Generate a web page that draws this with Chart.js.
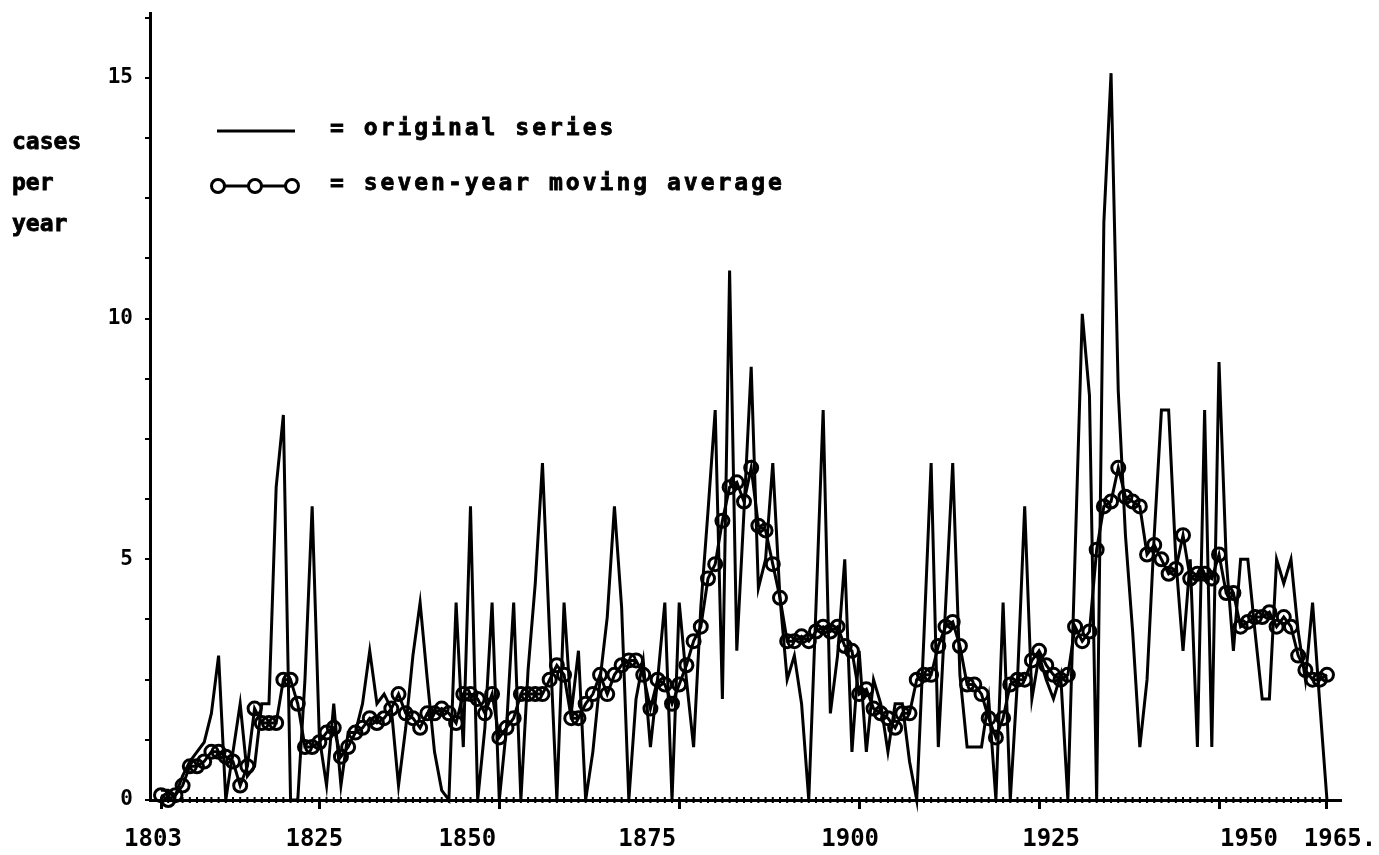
<!DOCTYPE html>
<html>
<head>
<meta charset="utf-8">
<title>cases per year</title>
<script src="https://cdn.jsdelivr.net/npm/chart.js@4.4.1/dist/chart.umd.min.js"></script>
<style>
  html, body { margin: 0; padding: 0; background: #fff; }
  #wrap { width: 1379px; height: 855px; position: relative; }
</style>
</head>
<body>
<div id="wrap"><canvas id="chart"></canvas></div>
<script>
// ── data: annual cases 1803–1965 ──
const FIRST_YEAR = 1803;

const original = [
  0.2, 0.2, 0.1, 0.5, 0.8, 1.0, 1.2, 1.8, 3.0, 0.0,   // 1803-1812
  1.0, 2.0, 0.5, 0.7, 2.0, 2.0, 6.5, 8.0, 0.0, 0.0,   // 1813-1822
  2.5, 6.1, 1.3, 0.3, 2.0, 0.3, 1.4, 1.4, 2.0, 3.1,   // 1823-1832
  2.0, 2.2, 1.9, 0.3, 1.5, 3.0, 4.1, 2.5, 1.0, 0.2,   // 1833-1842
  0.0, 4.1, 1.1, 6.1, 0.0, 1.5, 4.1, 0.0, 1.5, 4.1,   // 1843-1852
  0.0, 2.7, 4.5, 7.0, 3.4, 0.0, 4.1, 1.8, 3.1, 0.0,   // 1853-1862
  1.0, 2.5, 3.8, 6.1, 4.0, 0.0, 2.1, 2.9, 1.1, 2.5,   // 1863-1872
  4.1, 0.0, 4.1, 2.5, 1.1, 4.0, 6.0, 8.1, 2.1, 11.0,  // 1873-1882
  3.1, 6.0, 9.0, 4.4, 5.0, 7.0, 4.2, 2.5, 3.0, 2.0,   // 1883-1892
  0.0, 4.0, 8.1, 1.8, 3.0, 5.0, 1.0, 3.1, 1.0, 2.5,   // 1893-1902
  2.0, 1.0, 2.0, 2.0, 0.8, 0.0, 3.4, 7.0, 1.1, 4.0,   // 1903-1912
  7.0, 2.6, 1.1, 1.1, 1.1, 2.1, 0.0, 4.1, 0.0, 2.5,   // 1913-1922
  6.1, 2.1, 3.0, 2.5, 2.1, 2.6, 0.0, 5.1, 10.1, 8.4,  // 1923-1932
  0.0, 12.0, 15.1, 8.5, 5.5, 3.5, 1.1, 2.5, 5.5, 8.1, // 1933-1942
  8.1, 5.0, 3.1, 5.0, 1.1, 8.1, 1.1, 9.1, 5.0, 3.1,   // 1943-1952
  5.0, 5.0, 3.5, 2.1, 2.1, 5.0, 4.5, 5.0, 3.5, 2.5,   // 1953-1962
  4.1, 2.0, 0.0                                       // 1963-1965
];

const movingAvg = [
  0.1, 0.0, 0.1, 0.3, 0.7, 0.7, 0.8, 1.0, 1.0, 0.9,   // 1803-1812
  0.8, 0.3, 0.7, 1.9, 1.6, 1.6, 1.6, 2.5, 2.5, 2.0,   // 1813-1822
  1.1, 1.1, 1.2, 1.4, 1.5, 0.9, 1.1, 1.4, 1.5, 1.7,   // 1823-1832
  1.6, 1.7, 1.9, 2.2, 1.8, 1.7, 1.5, 1.8, 1.8, 1.9,   // 1833-1842
  1.8, 1.6, 2.2, 2.2, 2.1, 1.8, 2.2, 1.3, 1.5, 1.7,   // 1843-1852
  2.2, 2.2, 2.2, 2.2, 2.5, 2.8, 2.6, 1.7, 1.7, 2.0,   // 1853-1862
  2.2, 2.6, 2.2, 2.6, 2.8, 2.9, 2.9, 2.6, 1.9, 2.5,   // 1863-1872
  2.4, 2.0, 2.4, 2.8, 3.3, 3.6, 4.6, 4.9, 5.8, 6.5,   // 1873-1882
  6.6, 6.2, 6.9, 5.7, 5.6, 4.9, 4.2, 3.3, 3.3, 3.4,   // 1883-1892
  3.3, 3.5, 3.6, 3.5, 3.6, 3.2, 3.1, 2.2, 2.3, 1.9,   // 1893-1902
  1.8, 1.7, 1.5, 1.8, 1.8, 2.5, 2.6, 2.6, 3.2, 3.6,   // 1903-1912
  3.7, 3.2, 2.4, 2.4, 2.2, 1.7, 1.3, 1.7, 2.4, 2.5,   // 1913-1922
  2.5, 2.9, 3.1, 2.8, 2.6, 2.5, 2.6, 3.6, 3.3, 3.5,   // 1923-1932
  5.2, 6.1, 6.2, 6.9, 6.3, 6.2, 6.1, 5.1, 5.3, 5.0,   // 1933-1942
  4.7, 4.8, 5.5, 4.6, 4.7, 4.7, 4.6, 5.1, 4.3, 4.3,   // 1943-1952
  3.6, 3.7, 3.8, 3.8, 3.9, 3.6, 3.8, 3.6, 3.0, 2.7,   // 1953-1962
  2.5, 2.5, 2.6                                       // 1963-1965
];

const years = original.map((_, i) => FIRST_YEAR + i);

const tickYears  = [1803, 1825, 1850, 1875, 1900, 1925, 1950, 1965];
const tickLabels = ['1803', '1825', '1850', '1875', '1900', '1925', '1950', '1965.'];
const yLabelValues = [0, 5, 10, 15];
const yTitleLines  = ['cases', 'per', 'year'];
const legendTexts  = ['= original series', '= seven-year moving average'];

// ── layout / style ──
const X_MIN = 1801.47, X_MAX = 1966.81;
const Y_MAX = 16.35, Y_STEP = 1.25;
const PX_PER_YEAR = 7.2;
// the printed year labels sit a little off their tick marks (px)
const labelShift = [-8, -5, -32, -32, -9, 12, 30, 13];
const INK = '#000';
const FONT = '"DejaVu Sans Mono", monospace';

Chart.defaults.font.family = FONT;
Chart.defaults.font.weight = 'bold';
Chart.defaults.color = INK;

// keep the plot box where the original sits: no label overhang padding
const noOverhang = s => { s.paddingLeft = 0; s.paddingRight = 0; s.paddingTop = 0; s.paddingBottom = 0; };

// heavy "printer" text: fill plus a thin stroke
function inkText(ctx, text, x, y) {
  ctx.fillText(text, x, y);
  ctx.strokeText(text, x, y);
}

// small year marks along the zero line, plus legend and axis title
const decorations = {
  id: 'decorations',
  afterDatasetsDraw(chart) {
    const { ctx } = chart;
    const xs = chart.scales.x, ys = chart.scales.y;
    const y0 = ys.getPixelForValue(0);

    ctx.save();
    ctx.strokeStyle = INK;
    ctx.lineWidth = 2;
    years.forEach(yr => {
      const px = xs.getPixelForValue(yr);
      ctx.beginPath();
      ctx.moveTo(px, y0 - 3);
      ctx.lineTo(px, y0 + 3);
      ctx.stroke();
    });

    // axis title, stacked
    ctx.fillStyle = INK;
    ctx.font = 'bold 23px ' + FONT;
    ctx.textBaseline = 'middle';
    ctx.textAlign = 'left';
    ctx.lineWidth = 0.8;
    yTitleLines.forEach((t, i) => inkText(ctx, t, 12, 143 + i * 41));

    // legend
    ctx.lineWidth = 3;
    ctx.beginPath(); ctx.moveTo(217, 131); ctx.lineTo(295, 131); ctx.stroke();
    ctx.beginPath(); ctx.moveTo(218, 186); ctx.lineTo(292, 186); ctx.stroke();
    [218, 255, 292].forEach(cx => {
      ctx.beginPath();
      ctx.fillStyle = '#fff';
      ctx.arc(cx, 186, 6.5, 0, Math.PI * 2);
      ctx.fill();
      ctx.stroke();
    });
    ctx.fillStyle = INK;
    ctx.lineWidth = 0.8;
    if ('letterSpacing' in ctx) ctx.letterSpacing = '3px';
    inkText(ctx, legendTexts[0], 330, 129);
    inkText(ctx, legendTexts[1], 330, 184);
    ctx.restore();
  }
};

new Chart(document.getElementById('chart').getContext('2d'), {
  type: 'line',
  data: {
    datasets: [
      {
        label: 'original series',
        data: years.map((yr, i) => ({ x: yr, y: original[i] })),
        borderColor: INK,
        borderWidth: 3,
        pointRadius: 0,
        tension: 0,
        clip: false,
      },
      {
        label: 'seven-year moving average',
        data: years.map((yr, i) => ({ x: yr, y: movingAvg[i] })),
        borderColor: INK,
        borderWidth: 3,
        pointRadius: 6.5,
        pointBorderWidth: 3,
        pointBorderColor: INK,
        pointBackgroundColor: 'rgba(0,0,0,0)',
        tension: 0,
        clip: false,
      },
    ],
  },
  options: {
    responsive: true,
    maintainAspectRatio: false,
    animation: false,
    devicePixelRatio: 1,
    layout: { padding: { top: 13, right: 39, left: 0, bottom: 0 } },
    plugins: { legend: { display: false }, tooltip: { enabled: false } },
    scales: {
      x: {
        type: 'linear',
        position: 'bottom',
        min: X_MIN, max: X_MAX,
        afterBuildTicks: s => { s.ticks = tickYears.map(v => ({ value: v })); },
        ticks: { display: false },
        grid: { drawOnChartArea: false, drawTicks: true, tickLength: 9, lineWidth: 3, color: INK },
        border: { display: true, color: INK, width: 3 },
        afterFit: s => { s.height = 9; noOverhang(s); },
      },
      xLab: {
        type: 'linear',
        position: 'bottom',
        min: X_MIN, max: X_MAX,
        afterBuildTicks: s => {
          s.ticks = tickYears.map((v, i) => ({ value: v + labelShift[i] / PX_PER_YEAR }));
        },
        ticks: {
          autoSkip: false, maxRotation: 0, minRotation: 0, padding: 8,
          font: { size: 24, weight: 'bold' },
          callback: (v, i) => tickLabels[i],
        },
        grid: { display: false },
        border: { display: false },
        afterFit: s => { s.height = 46; noOverhang(s); },
      },
      y: {
        type: 'linear',
        min: 0, max: Y_MAX,
        afterBuildTicks: s => {
          const t = [];
          for (let v = 0; v <= Y_MAX; v += Y_STEP) t.push({ value: v });
          s.ticks = t;
        },
        ticks: {
          autoSkip: false, padding: 12,
          font: { size: 21, weight: 'bold' },
          callback: v => (yLabelValues.includes(v) ? String(v) : ''),
        },
        grid: { drawOnChartArea: false, drawTicks: true, tickLength: 5, lineWidth: 2, color: INK },
        border: { display: true, color: INK, width: 3 },
        afterFit: s => { s.width = 150; noOverhang(s); },
      },
    },
  },
  plugins: [decorations],
});
</script>
</body>
</html>
